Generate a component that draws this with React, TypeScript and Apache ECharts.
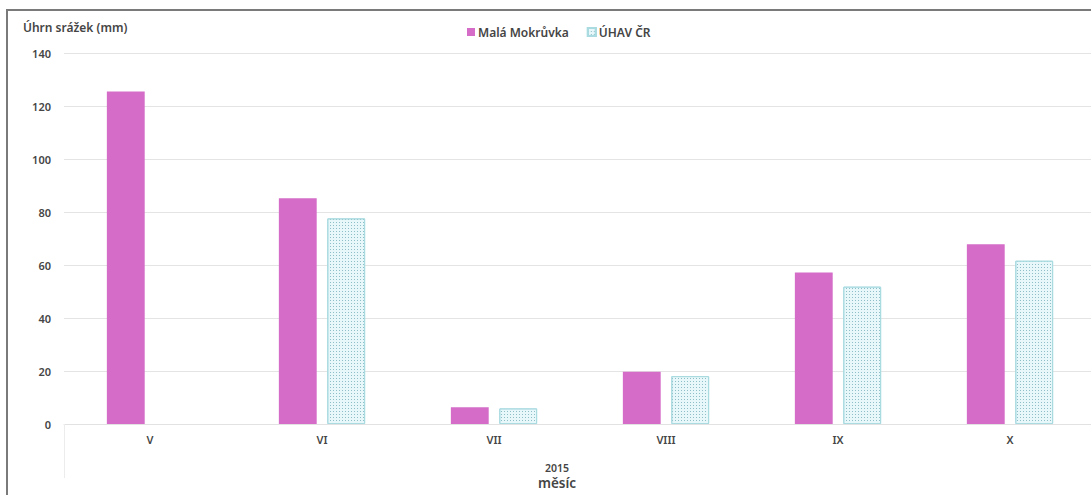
import React, { useEffect, useRef } from "react";
import * as echarts from "echarts";

const categories = ["V", "VI", "VII", "VIII", "IX", "X"];
const malaMokruvka = [125.6, 85.3, 6.3, 19.7, 57.2, 67.9];
const uhavCR = [null, 77.7, 5.9, 18.1, 51.9, 61.7];
const seriesNames = ["Malá Mokrůvka", "ÚHAV ČR"];
const yTitle = "Úhrn srážek (mm)";
const xTitleYear = "2015";
const xTitle = "měsíc";

const FONT = "'Noto Sans', 'DejaVu Sans', sans-serif";
const TXT = "#454545";

export default function App() {
  const ref = useRef<HTMLDivElement>(null);
  useEffect(() => {
    if (!ref.current) return;
    const chart = echarts.init(ref.current, null, { renderer: "svg" });
    chart.setOption({
      animation: false,
      textStyle: { fontFamily: FONT },
      legend: {
        left: 462,
        top: 21,
        itemWidth: 8,
        itemHeight: 8,
        itemGap: 18,
        icon: "rect",
        textStyle: { fontFamily: FONT, fontSize: 12, fontWeight: 600, color: TXT, padding: [0, 0, 0, -2] },
        data: seriesNames,
      },
      grid: { left: 64, right: 24, top: 53.5, bottom: 71, containLabel: false },
      xAxis: {
        type: "category",
        data: categories,
        axisLine: { show: true, lineStyle: { color: "#e2e2e2", width: 1 } },
        axisTick: {
          show: true,
          alignWithLabel: false,
          length: 54,
          interval: (i: number) => i === 0,
          lineStyle: { color: "#ececec" },
        },
        axisLabel: { margin: 10, fontFamily: FONT, fontSize: 11, fontWeight: 600, color: TXT },
      },
      yAxis: {
        type: "value",
        min: 0,
        max: 140,
        interval: 20,
        axisLine: { show: false },
        axisTick: { show: false },
        axisLabel: { margin: 13, fontFamily: FONT, fontSize: 11, fontWeight: 600, color: TXT },
        splitLine: { lineStyle: { color: "#e4e4e4", width: 1 } },
      },
      graphic: [
        {
          type: "text",
          left: 23,
          top: 21,
          style: { text: yTitle, fontFamily: FONT, fontSize: 12, fontWeight: 600, fill: TXT },
        },
        {
          type: "text",
          x: 557,
          y: 462,
          style: {
            text: xTitleYear,
            fontFamily: FONT,
            fontSize: 10.5,
            fontWeight: 600,
            fill: TXT,
            align: "center",
            verticalAlign: "top",
            lineHeight: 11,
          },
        },
        {
          type: "text",
          x: 557,
          y: 476,
          style: {
            text: xTitle,
            fontFamily: FONT,
            fontSize: 13.5,
            fontWeight: 600,
            fill: TXT,
            align: "center",
            verticalAlign: "top",
            lineHeight: 14,
          },
        },
      ],
      series: [
        {
          name: seriesNames[0],
          type: "bar",
          data: malaMokruvka,
          barWidth: "22%",
          barGap: "28%",
          itemStyle: { color: "#d46cc8" },
        },
        {
          name: seriesNames[1],
          type: "bar",
          data: uhavCR,
          barWidth: "22%",
          barGap: "28%",
          itemStyle: {
            color: "#e8f7f9",
            borderColor: "#a9dbe1",
            borderWidth: 1,
            decal: {
              symbol: "rect",
              symbolSize: 1,
              color: "#8fbfc6",
              dashArrayX: [1, 2],
              dashArrayY: [1, 2],
              rotation: 0,
            },
          },
        },
      ],
    });
    return () => chart.dispose();
  }, []);

  return (
    <div style={{ position: "fixed", left: 0, top: 0, width: 1091, height: 495, overflow: "hidden", background: "#fff" }}>
      <div
        style={{
          position: "absolute",
          left: 6,
          top: 9,
          width: 2000,
          height: 1000,
          borderLeft: "2px solid #7a7a7a",
          borderTop: "2px solid #7a7a7a",
        }}
      />
      <div ref={ref} style={{ position: "absolute", left: 0, top: 0, width: 1120, height: 495 }} />
    </div>
  );
}
